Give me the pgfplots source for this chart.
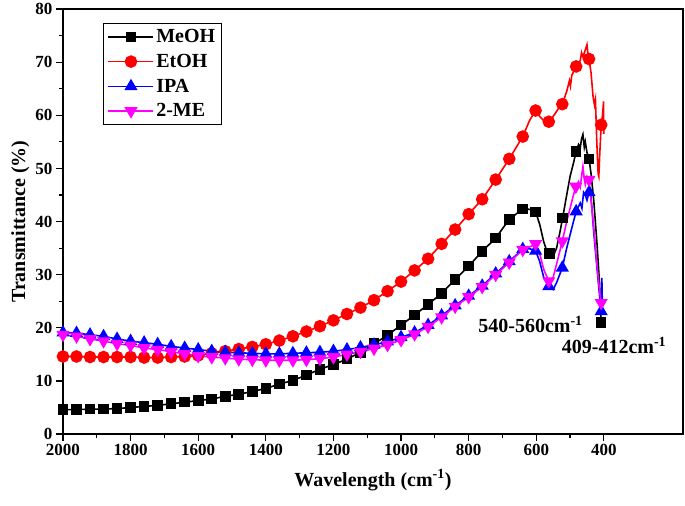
\documentclass[border=0pt]{standalone}
\usepackage{fontspec}
\setmainfont{Liberation Serif}
\usepackage{pgfplots}
\pgfplotsset{compat=1.18}
\definecolor{mag}{RGB}{255,0,255}
\definecolor{pred}{RGB}{255,0,0}
\definecolor{pblue}{RGB}{0,0,255}

% FTIR transmittance, one table per solvent
\pgfplotstableread{
x y
2000 4.6
1960 4.6
1920 4.7
1880 4.7
1840 4.8
1800 5.0
1760 5.2
1720 5.4
1680 5.7
1640 6.0
1600 6.3
1560 6.6
1520 7.1
1480 7.5
1440 8.0
1400 8.6
1360 9.4
1320 10.1
1280 11.1
1240 12.2
1200 13.1
1160 14.1
1120 15.4
1080 17.0
1040 18.6
1000 20.5
960 22.4
920 24.4
880 26.5
840 29.1
800 31.6
760 34.4
720 36.9
680 40.4
640 42.4
620 42.3
602 41.8
590 39.5
578 36.2
568 34.3
561 34.0
548 33.8
540 35.0
530 38.0
522 40.7
510 45.0
500 48.5
490 51.0
482 53.2
475 54.5
470 53.8
466 55.6
462 56.4
458 54.0
455 55.0
450 53.0
444 51.8
438 49.0
430 44.0
420 35.5
413 28.4
408 21.0
}\meoh

\pgfplotstableread{
x y
2000 14.6
1960 14.6
1920 14.5
1880 14.5
1840 14.5
1800 14.5
1760 14.4
1720 14.4
1680 14.5
1640 14.6
1600 14.8
1560 15.2
1520 15.6
1480 16.0
1440 16.4
1400 16.9
1360 17.6
1320 18.4
1280 19.3
1240 20.3
1200 21.4
1160 22.6
1120 23.8
1080 25.2
1040 26.9
1000 28.7
960 30.8
920 33.0
880 35.8
840 38.5
800 41.4
760 44.2
720 47.9
680 51.8
640 56.0
620 59.0
602 60.9
590 59.8
575 58.8
563 58.8
550 59.8
535 61.2
523 62.1
510 64.5
502 66.5
499 65.5
495 67.5
482 69.2
470 70.3
466 71.8
462 71.0
455 72.3
450 73.3
447 71.5
444 70.6
438 68.0
432 63.5
428 62.0
425 63.0
421 55.0
417 49.0
415 48.5
412 53.0
408 58.2
404 60.0
401 62.6
400.5 56.5
}\etoh

\pgfplotstableread{
x y
2000 19.1
1960 19.0
1920 18.7
1880 18.4
1840 17.9
1800 17.5
1760 17.2
1720 16.9
1680 16.5
1640 16.2
1600 15.9
1560 15.6
1520 15.4
1480 15.3
1440 15.2
1400 15.1
1360 15.1
1320 15.2
1280 15.3
1240 15.4
1200 15.6
1160 15.9
1120 16.3
1080 16.8
1040 17.4
1000 18.2
960 19.1
920 20.5
880 22.3
840 24.2
800 26.0
760 27.9
720 30.2
680 32.5
640 34.8
620 34.9
602 34.5
590 32.5
578 29.5
563 27.8
550 27.2
540 28.5
523 31.3
510 35.0
500 37.5
490 40.0
482 41.9
470 43.5
465 42.5
460 45.5
455 45.0
450 44.0
444 45.5
440 46.0
436 43.0
430 38.0
420 31.0
412 25.5
408 23.1
406 29.4
404 22.5
}\ipa

\pgfplotstableread{
x y
2000 18.7
1960 18.4
1920 17.9
1880 17.5
1840 17.0
1800 16.7
1760 16.2
1720 15.9
1680 15.5
1640 15.1
1600 14.7
1560 14.5
1520 14.3
1480 14.1
1440 14.0
1400 13.9
1360 13.9
1320 13.9
1280 14.0
1240 14.2
1200 14.5
1160 15.0
1120 15.5
1080 16.1
1040 16.8
1000 17.7
960 18.8
920 20.2
880 22.0
840 24.0
800 25.8
760 27.7
720 30.0
680 32.3
640 34.7
620 35.2
602 35.8
590 34.0
578 31.0
563 28.8
550 29.5
540 32.0
523 36.3
510 40.0
500 42.5
490 45.0
483 46.6
475 47.5
470 46.5
465 49.0
462 50.4
458 48.0
455 47.0
450 48.5
444 47.9
438 44.0
430 39.0
420 31.5
412 26.5
408 24.7
}\tme

\begin{document}
\begin{tikzpicture}
\begin{axis}[
    name=ax,
    scale only axis, width=620pt, height=425pt,
    x dir=reverse, xmin=166, xmax=2000, ymin=0, ymax=80,
    xtick={400,600,...,2000}, ytick={0,10,...,80},
    minor x tick num=1, minor y tick num=1,
    xtick pos=left, ytick pos=left, tick align=outside,
    major tick length=7pt, minor tick length=4pt,
    every tick/.style={black, line width=1.2pt},
    axis line style={line width=1.3pt},
    /pgf/number format/assume math mode=true,
    /pgf/number format/1000 sep={},
    tick label style={font=\fontsize{17}{19}\selectfont\bfseries},
    label style={font=\fontsize{20}{22}\selectfont\bfseries},
    xlabel={Wavelength (cm\textsuperscript{-1})},
    ylabel={Transmittance (\%)},
    xlabel style={at={(axis description cs:0.5,-0.108)}, anchor=center},
    ylabel style={at={(axis description cs:-0.069,0.5)}, anchor=center},
    legend image code/.code={\draw[mark repeat=2,mark phase=2,#1,line width=1.6pt] plot coordinates {(0pt,0pt) (22.5pt,0pt) (45pt,0pt)};},
    legend style={at={(axis description cs:0.065,0.967)}, anchor=north west,
        draw=black, line width=0.8pt, font=\fontsize{20}{22}\selectfont\bfseries,
        inner xsep=4pt, inner ysep=4pt, row sep=6pt},
    legend cell align=left,
  ]
  \addlegendimage{black, mark=square*, mark size=4.5pt}
  \addlegendentry{MeOH}
  \addlegendimage{pred, mark=*, mark size=5.5pt}
  \addlegendentry{EtOH}
  \addlegendimage{pblue, mark=triangle*, mark size=6pt}
  \addlegendentry{IPA}
  \addlegendimage{mag, mark=triangle*, mark size=6pt, mark options={rotate=180}}
  \addlegendentry{2-ME}

  \addplot[black, line width=1.6pt, mark=square*, mark size=4.5pt, forget plot,
      mark indices={1,...,35,37,41,45,49,57,62}] table[x=x, y=y] {\meoh};
  \addplot[pred, line width=1.6pt, mark=*, mark size=5.5pt, forget plot,
      mark indices={1,...,35,37,40,43,48,55,64}] table[x=x, y=y] {\etoh};
  \addplot[pblue, line width=1.6pt, mark=triangle*, mark size=6pt, forget plot,
      mark indices={1,...,35,37,40,43,47,53,59}] table[x=x, y=y] {\ipa};
  \addplot[mag, line width=1.6pt, mark=triangle*, mark size=6pt, forget plot,
      mark options={rotate=180},
      mark indices={1,...,35,37,40,43,47,55,60}] table[x=x, y=y] {\tme};

  \node[font=\fontsize{20}{22}\selectfont\bfseries] at (axis cs:617,20.6) {540-560cm\textsuperscript{-1}};
  \node[font=\fontsize{20}{22}\selectfont\bfseries] at (axis cs:370,16.7) {409-412cm\textsuperscript{-1}};
\end{axis}
\path ([xshift=-63pt,yshift=-71pt]ax.south west) rectangle ([xshift=2pt,yshift=9pt]ax.north east);
\end{tikzpicture}
\end{document}
